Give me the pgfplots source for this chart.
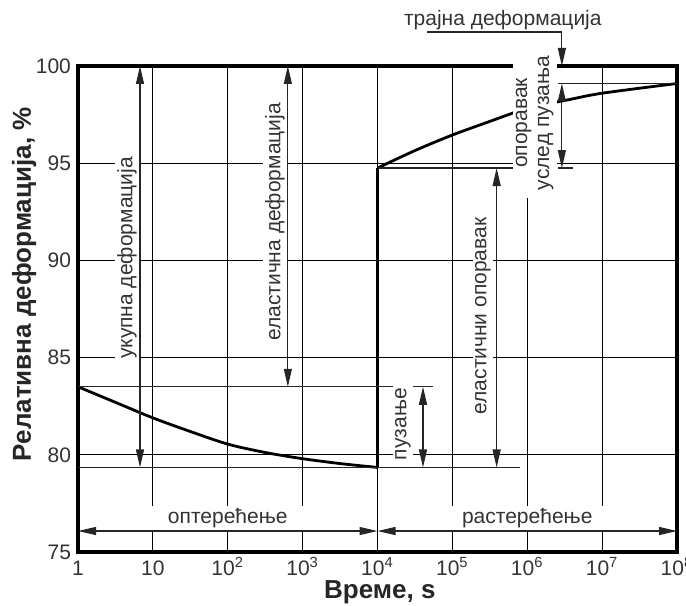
\documentclass[border=0pt]{standalone}
\usepackage{fontspec}
\setmainfont{Liberation Sans}
\usepackage{pgfplots}
\usepackage{pgfplotstable}
\pgfplotsset{compat=1.18}
\usetikzlibrary{arrows.meta}

% loading phase: relative deformation under constant load
\pgfplotstableread{
t def
1 83.5
3.16 82.7
10 81.9
31.6 81.2
100 80.55
316 80.12
1000 79.8
3162 79.55
10000 79.35
}\loading

% unloading phase: recovery after the load is removed
\pgfplotstableread{
t def
10000 94.75
31623 95.65
100000 96.45
316228 97.15
630957 97.57
1000000 97.85
3400000 98.25
10000000 98.6
100000000 99.1
}\unloading

\tikzset{
  dim/.style={line width=0.6pt, black!85,
    {Triangle[length=9pt,width=4pt]}-{Triangle[length=9pt,width=4pt]}},
  dimd/.style={line width=0.6pt, black!85, -{Triangle[length=9pt,width=4pt]}},
  thinl/.style={line width=0.6pt, black!85},
  lbl/.style={font=\fontsize{10.5}{12}\selectfont, text=black!80},
  box/.style={lbl, fill=white, inner sep=1pt},
}

\begin{document}
\begin{tikzpicture}
\begin{axis}[
  scale only axis,
  width=299.5pt, height=243pt,
  xmode=log, log basis x=10,
  xmin=1, xmax=1e8, ymin=75, ymax=100,
  xtick={1,10,100,1000,1e4,1e5,1e6,1e7,1e8},
  xticklabels={1,10,10\textsuperscript{2},10\textsuperscript{3},10\textsuperscript{4},10\textsuperscript{5},10\textsuperscript{6},10\textsuperscript{7},10\textsuperscript{8}},
  minor xtick={},
  ytick={75,80,...,100},
  grid=major,
  major grid style={black, line width=0.55pt},
  major tick length=0pt, minor tick length=0pt,
  axis line style={black, line width=1.6pt},
  tick label style={font=\fontsize{10.5}{12}\selectfont, text=black!80},
  xticklabel style={anchor=base, yshift=-11.8pt},
  /pgf/number format/assume math mode=true,
  xlabel={Време, s},
  ylabel={Релативна деформација, \%},
  label style={font=\bfseries\fontsize{13}{15}\selectfont, text=black!85},
  xlabel style={at={(rel axis cs:0.504,-0.083)}, anchor=center},
  ylabel style={at={(rel axis cs:-0.09,0.551)}, anchor=center},
  clip=false,
]
% deformation curve
\addplot[black, line width=1.4pt, smooth] table[x=t, y=def] {\loading};
\addplot[black, line width=1.4pt] coordinates {(10000,79.35) (10000,94.75)};
\addplot[black, line width=1.4pt, smooth] table[x=t, y=def] {\unloading};

% reference levels
\draw[thinl] (axis cs:1,83.5) -- (axis cs:5.5e4,83.5);
\draw[thinl] (axis cs:1,79.35) -- (axis cs:7.9e5,79.35);
\draw[thinl] (axis cs:1e4,94.75) -- (axis cs:6.4e5,94.75);
\draw[thinl] (axis cs:2.57e6,99.1) -- (axis cs:1e8,99.1);
\draw[thinl] (axis cs:2.57e6,94.75) -- (axis cs:4.1e6,94.75);

% dimension arrows
\draw[dim] (axis cs:6.73,100) -- (axis cs:6.73,79.35);
\draw[dim] (axis cs:635,100) -- (axis cs:635,83.5);
\draw[dim] (axis cs:4.05e4,83.5) -- (axis cs:4.05e4,79.35);
\draw[dim] (axis cs:3.9e5,94.75) -- (axis cs:3.9e5,79.35);
\draw[dim] (axis cs:2.9e6,94.75) -- (axis cs:2.9e6,99.1);
\draw[dim] (axis cs:1,76.08) -- (axis cs:1e4,76.08);
\draw[dim] (axis cs:1e4,76.08) -- (axis cs:1e8,76.08);
\draw[dimd] (axis cs:4.57e4,101.75) -- (axis cs:2.9e6,101.75) -- (axis cs:2.9e6,100);

% anchor points for the labels
\coordinate (t1) at (axis cs:4.51,90.12);
\coordinate (t2) at (axis cs:427,91.98);
\coordinate (t3) at (axis cs:2.19e4,81.58);
\coordinate (t4) at (axis cs:2.56e5,87.14);
\coordinate (t5) at (axis cs:1.26e6,97.07);
\coordinate (t6) at (axis cs:100,76.75);
\coordinate (t7) at (axis cs:1e6,76.75);
\coordinate (t8) at (axis cs:4.72e5,102.37);
\coordinate (sw) at (rel axis cs:0,0);
\coordinate (ne) at (rel axis cs:1,1);
\end{axis}

% labels on white boxes, drawn over grid, frame and curve
\node[box, rotate=90] at (t1) {укупна деформација};
\node[box, rotate=90] at (t2) {еластична деформација};
\node[box, rotate=90] at (t3) {пузање};
\node[box, rotate=90] at (t4) {еластични опоравак};
\node[box, rotate=90, align=center, minimum width=75pt, minimum height=22pt,
      font=\fontsize{10.5}{11}\selectfont] at (t5) {опоравак\\услед пузања};
\node[box, minimum width=83.5pt, minimum height=11.5pt] at (t6) {оптерећење};
\node[box, minimum width=83.5pt, minimum height=11.5pt] at (t7) {растерећење};
\node[lbl] at (t8) {трајна деформација};

\pgfresetboundingbox
\path[use as bounding box] ([shift={(-39pt,-26.5pt)}]sw) rectangle ([shift={(4.5pt,33pt)}]ne);
\end{tikzpicture}
\end{document}
